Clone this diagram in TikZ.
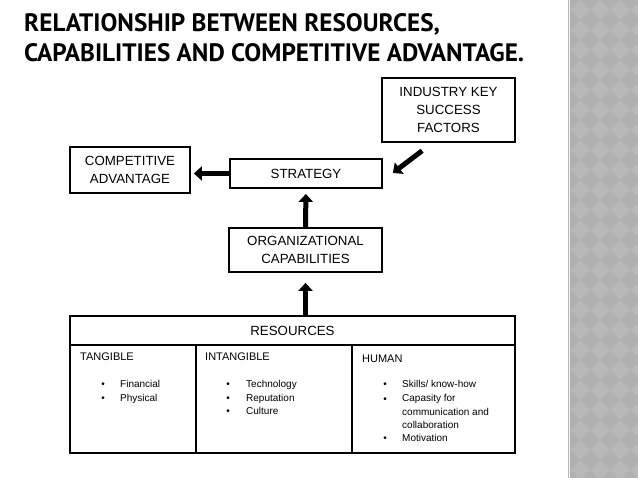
\documentclass[tikz,border=0pt]{standalone}
\usepackage{fontspec}
\setmainfont{Liberation Sans}
\newfontfamily\titlefont{PT Sans}
\usetikzlibrary{arrows.meta}
\definecolor{strip}{RGB}{184,184,184}
\definecolor{stripdark}{RGB}{176,176,176}
\tikzset{
  box/.style={draw=black, line width=1.8pt, align=center, inner sep=0pt,
    font=\fontsize{13.3}{17.6}\selectfont},
  bigarrow/.style={line width=5pt, -{Triangle[width=14pt,length=8pt]}},
  cell/.style={draw=black, line width=1.8pt},
  head/.style={anchor=base west, inner sep=0pt, font=\fontsize{11}{13}\selectfont},
  item/.style={anchor=base west, inner sep=0pt, align=left, font=\fontsize{10}{13.5}\selectfont},
  bul/.style={anchor=base, inner sep=0pt, font=\fontsize{10}{13.5}\selectfont},
}
\begin{document}
\begin{tikzpicture}[x=1pt,y=-1pt]
\useasboundingbox (0,0) rectangle (638,478);
\fill[white] (0,0) rectangle (638,478);
% gray strip
\fill[strip] (568,0) rectangle (638,478);
\begin{scope}
\clip (570,0) rectangle (638,478);
\foreach \i in {0,...,4}{
  \foreach \j in {0,...,24}{
    \fill[stripdark] (570+20*\i,20*\j-10) -- ++(10,10) -- ++(-10,10) -- ++(-10,-10) -- cycle;
  }
}
\end{scope}
\draw[white!85!strip, line width=0.8pt] (569,0) -- (569,478);
% title
\node[anchor=base west, inner sep=0pt, font=\titlefont\bfseries\fontsize{25.2}{28}\selectfont] (t1) at (24,32) {RELATIONSHIP BETWEEN RESOURCES,};
\node[anchor=base west, inner sep=0pt, font=\titlefont\bfseries\fontsize{25.2}{28}\selectfont] (t2) at (24,62) {CAPABILITIES AND COMPETITIVE ADVANTAGE.};
% boxes
\node[box, minimum width=133pt, minimum height=64pt] (ind) at (448.5,110) {INDUSTRY KEY\\SUCCESS\\FACTORS};
\node[box, minimum width=120pt, minimum height=46pt] (comp) at (130,170) {COMPETITIVE\\ADVANTAGE};
\node[box, minimum width=152pt, minimum height=29pt] (strat) at (306,173.5) {STRATEGY};
\node[box, minimum width=153pt, minimum height=44pt] (org) at (305.5,250) {ORGANIZATIONAL\\CAPABILITIES};
\node[box, minimum width=445pt, minimum height=29pt] (res) at (292.5,330.5) {RESOURCES};
\draw[cell] (70,345) rectangle (196,453);
\draw[cell] (196,345) rectangle (352,453);
\draw[cell] (352,345) rectangle (515,453);
% arrows
\draw[bigarrow, shorten >=3pt] (strat.west) -- (comp.east |- strat.west);
\draw[bigarrow, shorten <=13pt, shorten >=12.5pt] ([xshift=-16pt]ind.south) -- ([yshift=-7pt]strat.east);
\draw[bigarrow, shorten >=5pt] (org.north) -- (strat.south);
\draw[bigarrow, shorten >=10pt] (org.south |- res.north) -- (org.south);
% column headings
\node[head] (tang) at (80,361) {TANGIBLE};
\node[head] (intang) at (205,361) {INTANGIBLE};
\node[head] (hum) at (362,362.3) {HUMAN};
% tangible list
\node[bul] (b1) at (103,387.3) {\textbullet};
\node[item] (i1) at (120,387.3) {Financial};
\node[bul] (b2) at (103,401.5) {\textbullet};
\node[item] (i2) at (120,401.5) {Physical};
% intangible list
\node[bul] (b3) at (228,387.3) {\textbullet};
\node[item] (i3) at (246,387.3) {Technology};
\node[bul] (b4) at (228,401.5) {\textbullet};
\node[item] (i4) at (246,401.5) {Reputation};
\node[bul] (b5) at (228,415) {\textbullet};
\node[item] (i5) at (246,415) {Culture};
% human list
\node[bul] (b6) at (385,388) {\textbullet};
\node[item] (i6) at (402,388) {Skills/ know-how};
\node[bul] (b7) at (385,402.5) {\textbullet};
\node[item, anchor=north west] (i7) at (402,394.5) {Capasity for\\communication and\\collaboration};
\node[bul] (b8) at (385,442) {\textbullet};
\node[item] (i8) at (402,442) {Motivation};
\end{tikzpicture}
\end{document}
